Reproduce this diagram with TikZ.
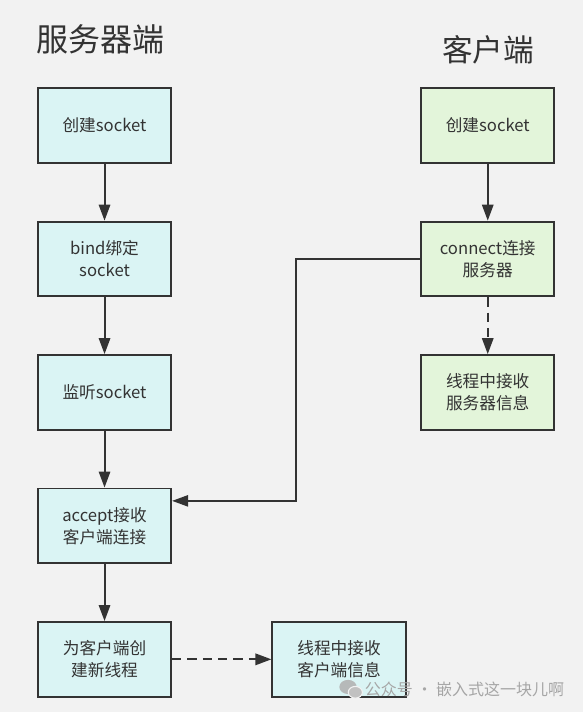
\documentclass[tikz,border=0pt]{standalone}
\usepackage{fontspec}
\setmainfont{Noto Sans CJK SC}
\usetikzlibrary{arrows.meta,positioning,calc}
\definecolor{bg}{HTML}{F2F2F2}
\definecolor{ink}{HTML}{333333}
\definecolor{srvfill}{HTML}{DAF4F4}
\definecolor{clifill}{HTML}{E3F5DA}
\definecolor{mark}{HTML}{A6A6A6}
\begin{document}
\begin{tikzpicture}[
  box/.style={draw=ink, line width=1.4pt, align=center, text=ink, minimum width=100pt, minimum height=56pt, inner sep=2pt, font=\fontsize{12.5pt}{16.5pt}\selectfont},
  srvbox/.style={box, fill=srvfill},
  clibox/.style={box, fill=clifill},
  title/.style={text=ink, inner sep=0pt},
  arr/.style={-{Triangle[length=12pt, width=8.5pt]}, draw=ink, line width=1.5pt},
  darr/.style={arr, dash pattern=on 7pt off 4.5pt},
]
\fill[bg] (0,0) rectangle (437.25pt,-534pt);
\useasboundingbox (0,0) rectangle (437.25pt,-534pt);
% titles
\node[title, font=\fontsize{24pt}{28pt}\selectfont] (srvtitle) at (75pt,-29.3pt) {服务器端};
\node[title, font=\fontsize{23pt}{27pt}\selectfont] (clititle) at (366pt,-37.5pt) {客户端};
% server side
\node[srvbox] (screate) at (78.4pt,-94.1pt) {创建socket};
\node[srvbox, below=42.7pt of screate] (bind) {bind绑定\\socket};
\node[srvbox, below=42.7pt of bind] (listen) {监听socket};
\node[srvbox, below=42.7pt of listen] (accept) {accept接收\\客户端连接};
\node[srvbox, below=42.7pt of accept] (spawn) {为客户端创\\建新线程};
\node[srvbox, right=74.5pt of spawn] (srecv) {线程中接收\\客户端信息};
% client side
\node[clibox, right=186pt of screate] (ccreate) {创建socket};
\node[clibox, below=42.7pt of ccreate] (connect) {connect连接\\服务器};
\node[clibox, below=42.7pt of connect] (crecv) {线程中接收\\服务器信息};
\coordinate (bend) at ($(connect.west)+(-93pt,0)$);
% flows
\draw[arr] (screate) -- (bind);
\draw[arr] (bind) -- (listen);
\draw[arr] (listen) -- (accept);
\draw[arr] (accept) -- (spawn);
\draw[darr] (spawn) -- (srecv);
\draw[arr] (ccreate) -- (connect);
\draw[darr] (connect) -- (crecv);
\draw[arr, line width=1.1pt] (connect.west) -- (bend) |- ([yshift=18.75pt]accept.east);
% watermark
\node[text=mark, anchor=west, inner sep=0pt, font=\fontsize{12pt}{14pt}\selectfont] (wm) at (273.5pt,-516.7pt) {公众号 · 嵌入式这一块儿啊};
\fill[mark!85, opacity=0.9] ([xshift=-12.5pt,yshift=1.5pt]wm.west) ellipse (6.5pt and 5.3pt);
\fill[mark!70, draw=bg, line width=0.8pt] ([xshift=-7pt,yshift=-2.5pt]wm.west) ellipse (5.3pt and 4.4pt);
\end{tikzpicture}
\end{document}
